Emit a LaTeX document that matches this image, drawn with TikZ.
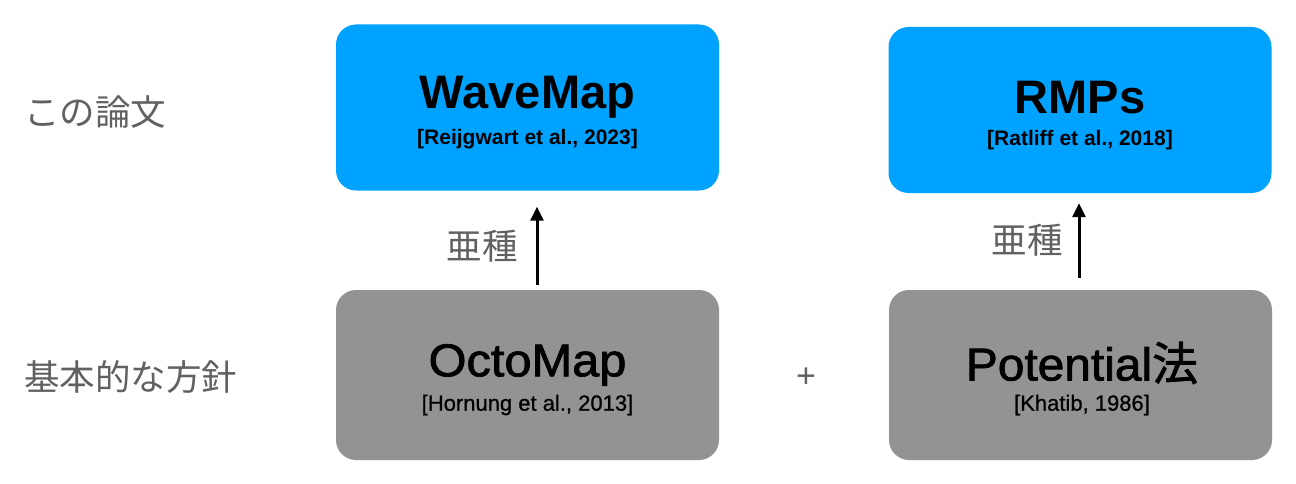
\documentclass[tikz,border=0pt]{standalone}
\usepackage{fontspec}
\setmainfont{Liberation Sans}
\newfontfamily\jp{Noto Sans CJK JP}
\newfontfamily\medfont[FakeBold=1.6]{Liberation Sans}
\newfontfamily\medjp[FakeBold=1.6]{Noto Sans CJK JP}
\newfontfamily\semifont[FakeBold=0.8]{Liberation Sans}
\usetikzlibrary{arrows.meta,calc}
\definecolor{boxblue}{HTML}{00A2FF}
\definecolor{boxgray}{HTML}{939393}
\definecolor{labgray}{HTML}{616161}
\tikzset{
  card/.style={rounded corners=20pt, minimum width=383pt, inner sep=0pt},
  topcard/.style={card, fill=boxblue, minimum height=166pt},
  botcard/.style={card, fill=boxgray, minimum height=170pt},
  toptitle/.style={font=\fontsize{47}{50}\selectfont\bfseries, text=black, inner sep=0pt},
  topcite/.style={font=\fontsize{21}{24}\selectfont\bfseries, text=black, inner sep=0pt},
  bottitle/.style={font=\medfont\fontsize{46}{50}\selectfont, text=black, inner sep=0pt},
  botcite/.style={font=\semifont\fontsize{22}{24}\selectfont, text=black, inner sep=0pt},
  sidelabel/.style={font=\jp\fontsize{35.5}{38}\selectfont, text=labgray, inner sep=0pt},
  uparrow/.style={line width=3pt, -{Triangle[length=14pt,width=13pt]}},
}
\begin{document}
\begin{tikzpicture}[x=1pt,y=-1pt]
\useasboundingbox[fill=white] (0,0) rectangle (1296,484);
% boxes
\node[topcard] (wave) at (527.5,107.5) {};
\node[topcard] (rmp) at (1080,110) {};
\node[botcard] (octo) at (527.5,375) {};
\node[botcard] (pot) at (1080.5,375) {};
% texts
\node[toptitle] (wavet) at (527.5,97) {WaveMap};
\node[topcite] (wavec) at (527.5,139) {[Reijgwart et al., 2023]};
\node[toptitle] (rmpt) at (1080,98) {RMPs};
\node[topcite] (rmpc) at (1080,140) {[Ratliff et al., 2018]};
\node[bottitle] (octot) at (527.5,365) {\scalebox{1.06}[1]{OctoMap}};
\node[botcite] (octoc) at (527.5,405) {[Hornung et al., 2013]};
\node[bottitle] (pott) at (1082,363) {\scalebox{1.04}[1]{Potential}{\medjp 法}};
\node[botcite] (potc) at (1082,405) {[Khatib, 1986]};
% side labels
\node[sidelabel, anchor=west] (lab1) at (24,112) {この論文};
\node[sidelabel, anchor=west] (lab2) at (24,377) {基本的な方針};
\node[sidelabel] (sub1) at (482,246) {亜種};
\node[sidelabel] (sub2) at (1027,240) {亜種};
\node[font=\fontsize{34}{38}\selectfont, text=labgray, inner sep=0pt] (plus) at (806,378) {+};
% arrows
\coordinate (a1s) at ($(octo.north)+(9.5,-5)$);
\coordinate (a1e) at ($(wave.south)+(9.5,16)$);
\coordinate (a2s) at ($(pot.north)+(-1.5,-12)$);
\coordinate (a2e) at ($(rmp.south)+(-1,10)$);
\draw[uparrow] (a1s) -- (a1e);
\draw[uparrow] (a2s) -- (a2e);
\end{tikzpicture}
\end{document}
